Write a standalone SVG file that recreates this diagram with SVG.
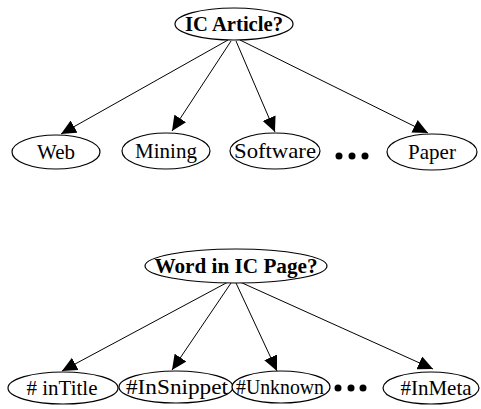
<svg xmlns="http://www.w3.org/2000/svg" width="481" height="409" viewBox="0 0 481 409">
  <defs>
    <marker id="arrow" markerUnits="userSpaceOnUse" markerWidth="16" markerHeight="14" refX="15" refY="7" orient="auto">
      <path d="M0,0 L15,7 L0,14 z" fill="#000"/>
    </marker>
    <style>
      .node ellipse { fill: #fff; stroke: #000; stroke-width: 1.2; }
      .node text { font-family: "Liberation Serif", "Times New Roman", serif; font-size: 21px; fill: #000; text-anchor: middle; }
      .root text { font-weight: bold; font-size: 20px; }
      .edges line { stroke: #000; stroke-width: 1; marker-end: url(#arrow); }
      .more circle { fill: #000; }
    </style>
  </defs>
  <rect width="481" height="409" fill="#fff"/>

  <!-- connectors -->
  <g id="edges" class="edges">
    <line x1="228" y1="40" x2="61" y2="134"/>
    <line x1="231" y1="41" x2="172" y2="131"/>
    <line x1="236" y1="41" x2="275" y2="132"/>
    <line x1="240" y1="40" x2="428" y2="133"/>
    <line x1="228" y1="282" x2="62" y2="371"/>
    <line x1="231" y1="283" x2="172" y2="370"/>
    <line x1="236" y1="283" x2="277" y2="371"/>
    <line x1="240" y1="282" x2="433" y2="369"/>
  </g>

  <!-- upper tree -->
  <g id="ic-article" class="node root">
    <ellipse cx="234" cy="24" rx="59" ry="16"/>
    <text x="234" y="31" textLength="98" lengthAdjust="spacingAndGlyphs">IC Article?</text>
  </g>
  <g id="web" class="node">
    <ellipse cx="56" cy="152" rx="44" ry="17"/>
    <text x="56" y="159">Web</text>
  </g>
  <g id="mining" class="node">
    <ellipse cx="166" cy="151" rx="44" ry="18"/>
    <text x="166" y="158">Mining</text>
  </g>
  <g id="software" class="node">
    <ellipse cx="275" cy="151" rx="45" ry="18"/>
    <text x="275" y="158" textLength="82" lengthAdjust="spacingAndGlyphs">Software</text>
  </g>
  <g id="paper" class="node">
    <ellipse cx="432" cy="152" rx="45" ry="18"/>
    <text x="432" y="159">Paper</text>
  </g>
  <g id="more-1" class="more">
    <circle cx="339" cy="156" r="3.5"/>
    <circle cx="352" cy="156" r="3.5"/>
    <circle cx="365" cy="156" r="3.5"/>
  </g>

  <!-- lower tree -->
  <g id="word-in-ic-page" class="node root">
    <ellipse cx="236" cy="266" rx="91" ry="17"/>
    <text x="236" y="273" textLength="163" lengthAdjust="spacingAndGlyphs">Word in IC Page?</text>
  </g>
  <g id="in-title" class="node">
    <ellipse cx="63" cy="388" rx="55" ry="16"/>
    <text x="62" y="395"># inTitle</text>
  </g>
  <g id="in-snippet" class="node">
    <ellipse cx="176" cy="387" rx="57" ry="16"/>
    <text x="177" y="394" textLength="102" lengthAdjust="spacingAndGlyphs">#InSnippet</text>
  </g>
  <g id="unknown" class="node">
    <ellipse cx="281" cy="387" rx="49" ry="16"/>
    <text x="280" y="394" textLength="88" lengthAdjust="spacingAndGlyphs">#Unknown</text>
  </g>
  <g id="in-meta" class="node">
    <ellipse cx="431" cy="388" rx="48" ry="16"/>
    <text x="436" y="395">#InMeta</text>
  </g>
  <g id="more-2" class="more">
    <circle cx="338" cy="388" r="3.5"/>
    <circle cx="351" cy="388" r="3.5"/>
    <circle cx="363" cy="388" r="3.5"/>
  </g>
</svg>
